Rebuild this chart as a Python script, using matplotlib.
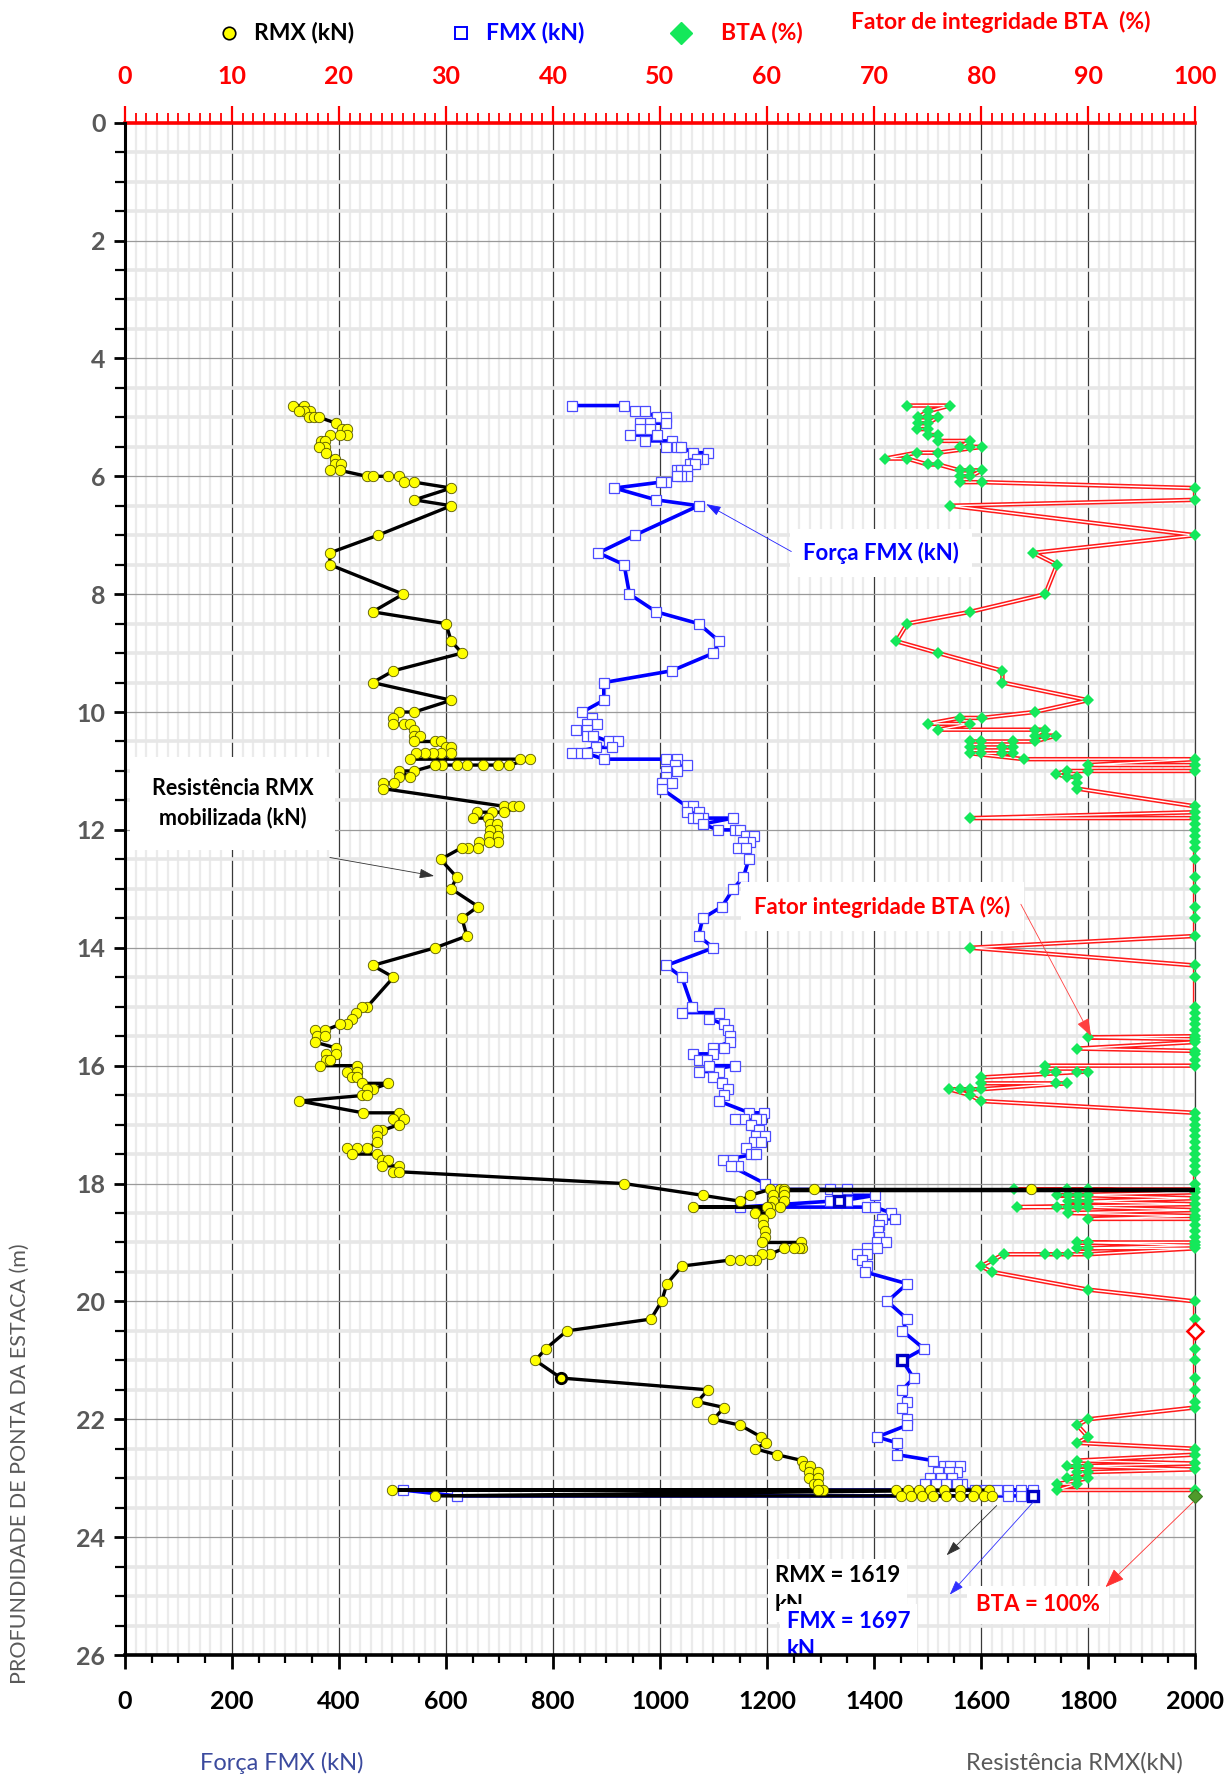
import matplotlib
matplotlib.use("Agg")
import matplotlib.pyplot as plt
from matplotlib.lines import Line2D
from matplotlib.ticker import MultipleLocator

plt.rcParams["font.family"] = ["Lato", "DejaVu Sans"]

# ---------------------------------------------------------------------------
# Data: depth (m) and value, in the order they are joined
# ---------------------------------------------------------------------------

# Resistência RMX mobilizada (kN)
rmx_depth = [
    4.80, 4.80, 4.90, 4.90, 4.90, 5.00, 5.00, 5.00, 5.10, 5.20, 5.20, 5.30, 5.30, 5.30,
    5.40, 5.40, 5.50, 5.50, 5.60, 5.70, 5.80, 5.80, 5.90, 5.90, 6.00, 6.00, 6.00, 6.00,
    6.10, 6.10, 6.20, 6.40, 6.50, 7.00, 7.30, 7.50, 8.00, 8.30, 8.50, 8.80, 9.00, 9.30,
    9.50, 9.80, 10.00, 10.00, 10.10, 10.20, 10.20, 10.20, 10.30, 10.40, 10.40, 10.50,
    10.50, 10.50, 10.60, 10.60, 10.70, 10.70, 10.70, 10.70, 10.70, 10.80, 10.80, 10.80,
    10.90, 10.90, 10.90, 10.90, 10.90, 10.90, 10.90, 11.00, 11.00, 11.10, 11.10, 11.20,
    11.20, 11.30, 11.60, 11.60, 11.60, 11.70, 11.70, 11.70, 11.80, 11.80, 11.90, 11.90,
    12.00, 12.00, 12.10, 12.10, 12.20, 12.20, 12.20, 12.30, 12.30, 12.30, 12.50, 12.80,
    13.00, 13.30, 13.50, 13.80, 14.00, 14.30, 14.50, 15.00, 15.00, 15.10, 15.20, 15.30,
    15.30, 15.40, 15.40, 15.50, 15.50, 15.60, 15.70, 15.80, 15.80, 15.90, 15.90, 16.00,
    16.00, 16.10, 16.10, 16.10, 16.20, 16.20, 16.30, 16.30, 16.40, 16.40, 16.50, 16.50,
    16.60, 16.80, 16.80, 16.90, 16.90, 17.00, 17.10, 17.10, 17.20, 17.30, 17.40, 17.40,
    17.40, 17.50, 17.50, 17.60, 17.60, 17.70, 17.70, 17.80, 17.80, 18.00, 18.20, 18.30,
    18.20, 18.10, 18.10, 18.10, 18.10, 18.10, 18.10, 18.12, 18.12, 18.20, 18.20, 18.30,
    18.30, 18.40, 18.40, 18.40, 18.40, 18.50, 18.50, 18.60, 18.70, 18.80, 18.90, 19.00,
    19.00, 19.10, 19.10, 19.10, 19.10, 19.20, 19.20, 19.30, 19.30, 19.30, 19.30, 19.40,
    19.70, 20.00, 20.30, 20.50, 20.80, 21.00, 21.30, 21.50, 21.70, 21.80, 22.00, 22.10,
    22.30, 22.40, 22.50, 22.60, 22.70, 22.80, 22.80, 22.90, 22.90, 23.00, 23.00, 23.10,
    23.10, 23.20, 23.20, 23.20, 23.20, 23.20, 23.20, 23.20, 23.20, 23.20, 23.20, 23.20,
    23.30, 23.30, 23.30, 23.30, 23.30, 23.30, 23.30, 23.30, 23.30, 23.30,
]
rmx_kn = [
    315, 334, 346, 335, 326, 345, 354, 363, 395, 405, 415, 415, 402, 383,
    366, 374, 374, 363, 376, 393, 393, 403, 383, 402, 452, 463, 492, 512,
    522, 541, 610, 541, 610, 473, 383, 383, 520, 463, 600, 610, 630, 502,
    463, 610, 541, 512, 502, 502, 522, 532, 541, 541, 551, 541,
    580, 590, 600, 610, 610, 590, 575, 560, 545, 532, 739, 757,
    718, 698, 669, 639, 620, 592, 580, 541, 512, 532, 512, 503,
    483, 483, 709, 726, 737, 709, 686, 658, 650, 679, 682, 695,
    695, 682, 681, 698, 698, 681, 661, 660, 642, 630, 590, 620,
    610, 660, 630, 639, 580, 463, 502, 453, 443, 432, 424, 415,
    402, 374, 355, 359, 374, 355, 395, 395, 376, 376, 383, 365,
    433, 433, 415, 433, 424, 433, 443, 492, 463, 452, 443, 452,
    326, 445, 512, 522, 502, 512, 481, 472, 472, 472, 452, 433,
    415, 424, 472, 481, 492, 481, 512, 502, 512, 933, 1080, 1150,
    1168, 1206, 1225, 1231, 1287, 1694, 2600, 2600, 1231, 1231, 1212, 1212,
    1231, 1225, 1206, 1061, 1200, 1178, 1206, 1193, 1193, 1196, 1196, 1190,
    1264, 1265, 1259, 1250, 1231, 1206, 1190, 1180, 1168, 1150, 1130, 1041,
    1013, 1003, 983, 826, 787, 767, 815, 1090, 1070, 1120, 1100, 1150,
    1189, 1198, 1178, 1218, 1266, 1270, 1280, 1278, 1296, 1278, 1296, 1287,
    1296, 1305, 1296, 500, 1442, 1464, 1484, 1505, 1530, 1560, 1590, 1615,
    580, 1451, 1470, 1490, 1510, 1535, 1560, 1585, 1605, 1620,
]

# Força FMX (kN)
fmx_depth = [
    4.80, 4.80, 4.90, 4.90, 5.00, 5.00, 5.10, 5.10, 5.10, 5.20, 5.20, 5.30, 5.30, 5.40,
    5.40, 5.50, 5.50, 5.50, 5.60, 5.60, 5.70, 5.70, 5.80, 5.80, 5.90, 5.90, 5.90, 6.00,
    6.00, 6.00, 6.10, 6.10, 6.20, 6.40, 6.50, 7.00, 7.30, 7.50, 8.00, 8.30, 8.50, 8.80,
    9.00, 9.30, 9.50, 9.80, 10.00, 10.10, 10.20, 10.20, 10.30, 10.30, 10.40, 10.40,
    10.50, 10.50, 10.60, 10.60, 10.70, 10.70, 10.70, 10.80, 10.80, 10.80, 10.90, 10.90,
    11.00, 11.00, 11.10, 11.20, 11.20, 11.30, 11.60, 11.60, 11.70, 11.70, 11.80, 11.80,
    11.80, 11.80, 11.90, 12.00, 12.00, 12.00, 12.10, 12.10, 12.20, 12.20, 12.30, 12.30,
    12.50, 12.80, 13.00, 13.30, 13.50, 13.80, 14.00, 14.30, 14.50, 15.00, 15.10, 15.10,
    15.20, 15.30, 15.40, 15.50, 15.60, 15.70, 15.70, 15.80, 15.80, 15.90, 15.90, 16.00,
    16.00, 16.10, 16.10, 16.20, 16.30, 16.40, 16.50, 16.60, 16.80, 16.80, 16.90, 16.90,
    16.90, 16.90, 17.00, 17.10, 17.20, 17.20, 17.30, 17.30, 17.40, 17.50, 17.50, 17.60,
    17.60, 17.70, 17.70, 18.00, 18.10, 18.10, 18.10, 18.20, 18.20, 18.30, 18.30, 18.30,
    18.40, 18.40, 18.40, 18.50, 18.60, 18.60, 18.70, 18.80, 18.90, 19.00, 19.00, 19.10,
    19.10, 19.20, 19.20, 19.30, 19.40, 19.50, 19.70, 20.00, 20.30, 20.50, 20.80, 21.00,
    21.30, 21.50, 21.70, 21.80, 22.00, 22.10, 22.30, 22.40, 22.60, 22.70, 22.80, 22.80,
    22.80, 22.90, 22.90, 22.90, 23.00, 23.00, 23.00, 23.10, 23.10, 23.10, 23.10, 23.10,
    23.20, 23.20, 23.20, 23.20, 23.20, 23.20, 23.20, 23.30, 23.30, 23.30, 23.30,
]
fmx_kn = [
    835, 933, 953, 972, 994, 1011, 1012, 981, 963, 963, 981, 944, 994, 972,
    1022, 1012, 1031, 1040, 1061, 1090, 1081, 1069, 1056, 1065, 1031, 1040, 1050, 1050,
    1040, 1031, 1011, 1001, 915, 993, 1072, 953, 885, 933, 943, 993, 1072, 1111,
    1100, 1022, 895, 895, 855, 873, 863, 882, 844, 863, 863, 875,
    904, 922, 910, 880, 835, 853, 863, 895, 1012, 1031, 1028, 1050,
    1012, 1031, 1012, 1003, 1022, 1003, 1050, 1062, 1050, 1072, 1062, 1080,
    1071, 1136, 1080, 1108, 1140, 1150, 1160, 1176, 1169, 1156, 1146, 1160,
    1166, 1156, 1137, 1116, 1080, 1072, 1100, 1012, 1041, 1060, 1041, 1110,
    1092, 1119, 1128, 1130, 1130, 1100, 1119, 1100, 1061, 1072, 1088, 1091,
    1140, 1072, 1110, 1100, 1116, 1128, 1119, 1110, 1167, 1195, 1189, 1180,
    1157, 1140, 1170, 1185, 1179, 1196, 1176, 1189, 1160, 1170, 1179, 1117,
    1137, 1146, 1132, 1196, 1210, 1318, 1349, 1330, 1402, 1335, 1349, 1318,
    1150, 1386, 1402, 1432, 1440, 1414, 1410, 1408, 1410, 1405, 1423, 1405,
    1386, 1386, 1368, 1377, 1386, 1383, 1462, 1425, 1462, 1453, 1493, 1453,
    1474, 1453, 1462, 1453, 1462, 1462, 1406, 1443, 1443, 1510, 1530, 1542,
    1561, 1555, 1540, 1520, 1505, 1525, 1545, 1564, 1555, 1535, 1515, 1495,
    1589, 1610, 1630, 1650, 1675, 1698, 520, 620, 1650, 1675, 1698,
]

# Fator de integridade BTA (%)
bta_depth = [
    4.80, 4.80, 4.90, 5.00, 5.00, 5.00, 5.10, 5.10, 5.20, 5.20, 5.30, 5.30, 5.40, 5.40,
    5.50, 5.50, 5.50, 5.60, 5.60, 5.70, 5.70, 5.80, 5.80, 5.90, 5.90, 5.90, 6.00, 6.00,
    6.10, 6.10, 6.20, 6.40, 6.50, 7.00, 7.30, 7.50, 8.00, 8.30, 8.50, 8.80, 9.00, 9.30,
    9.50, 9.80, 10.00, 10.10, 10.10, 10.20, 10.20, 10.30, 10.30, 10.30, 10.40, 10.40,
    10.40, 10.50, 10.50, 10.50, 10.50, 10.60, 10.60, 10.60, 10.60, 10.70, 10.70, 10.70,
    10.70, 10.80, 10.80, 10.90, 10.90, 11.00, 11.00, 11.00, 11.05, 11.10, 11.10, 11.20,
    11.30, 11.60, 11.70, 11.80, 11.80, 11.90, 12.00, 12.10, 12.20, 12.30, 12.50, 12.80,
    13.00, 13.30, 13.50, 13.80, 14.00, 14.30, 14.50, 15.00, 15.10, 15.20, 15.30, 15.40,
    15.50, 15.52, 15.55, 15.60, 15.71, 15.75, 15.80, 15.90, 16.00, 16.00, 16.10, 16.10,
    16.10, 16.10, 16.20, 16.30, 16.30, 16.30, 16.40, 16.40, 16.40, 16.40, 16.50, 16.60,
    16.80, 16.90, 17.00, 17.10, 17.20, 17.30, 17.40, 17.50, 17.60, 17.70, 17.80, 18.00,
    18.10, 18.10, 18.10, 18.10, 18.15, 18.20, 18.20, 18.20, 18.20, 18.25, 18.30, 18.30,
    18.30, 18.35, 18.40, 18.40, 18.40, 18.40, 18.40, 18.45, 18.50, 18.55, 18.60, 18.60,
    18.70, 18.80, 18.90, 19.00, 19.00, 19.00, 19.05, 19.10, 19.10, 19.10, 19.20, 19.20,
    19.20, 19.20, 19.20, 19.30, 19.40, 19.50, 19.80, 20.00, 20.30, 20.50, 20.80, 21.00,
    21.30, 21.50, 21.70, 21.80, 22.00, 22.10, 22.30, 22.40, 22.50, 22.60, 22.70, 22.75,
    22.80, 22.80, 22.80, 22.85, 22.90, 22.90, 23.00, 23.00, 23.00, 23.10, 23.10, 23.20,
    23.20, 23.30,
]
bta_pct = [
    73.1, 77.1, 75.0, 74.1, 75.0, 76.0, 75.0, 74.1, 74.0, 75.0, 75.0, 76.0, 76.0, 79.0,
    78.0, 79.0, 80.1, 76.0, 74.0, 71.0, 73.1, 75.0, 76.0, 78.0, 79.0, 80.1, 79.0, 78.0,
    78.0, 80.1, 100, 100, 77.1, 100, 84.9, 87.1, 86.0, 79.0, 73.1, 72.1, 76.0, 82.0,
    82.0, 90.0, 85.0, 80.1, 78.0, 75.0, 79.0, 76.0, 85.0, 86.0, 85.0, 86.0,
    87.0, 85.0, 83.0, 80.0, 79.0, 79.0, 80.0, 82.0, 83.0, 83.0, 82.0, 80.0,
    79.0, 84.0, 100, 90.0, 100, 100, 90.0, 88.0, 87.0, 88.0, 89.0, 89.0,
    89.0, 100, 100, 79.0, 100, 100, 100, 100, 100, 100, 100, 100,
    100, 100, 100, 100, 79.0, 100, 100, 100, 100, 100, 100, 100,
    100, 90.0, 100, 100, 89.0, 100, 100, 100, 100, 86.0, 86.0, 87.0,
    89.0, 90.0, 80.0, 80.0, 87.0, 88.0, 80.0, 79.0, 78.0, 77.0, 79.0, 80.0,
    100, 100, 100, 100, 100, 100, 100, 100, 100, 100, 100, 100,
    100, 83.1, 88.0, 90.0, 100, 87.1, 88.1, 89.1, 90.0, 100, 90.0, 89.1,
    88.1, 100, 83.4, 87.1, 88.1, 89.1, 90.0, 100, 88.1, 100, 90.0, 100,
    100, 100, 100, 100, 89.0, 90.0, 100, 89.0, 90.0, 100, 90.0, 88.1,
    87.1, 86.0, 82.1, 81.1, 80.0, 81.0, 90.0, 100, 100, 100, 100, 100,
    100, 100, 100, 100, 90.0, 89.0, 90.0, 89.0, 100, 100, 89.0, 100,
    88.0, 89.0, 90.0, 100, 89.0, 90.0, 88.0, 89.0, 90.0, 87.1, 89.0, 87.1,
    100, 100,
]

# points drawn with a heavier outline in the original
rmx_sel_depth, rmx_sel_kn = [21.30], [815]
fmx_sel_depth, fmx_sel_kn = [18.30, 21.00, 23.30], [1335, 1453, 1698]
bta_sel_depth, bta_sel_pct = [20.50], [100]
bta_end_depth, bta_end_pct = [23.30], [100]

kn_ticks = list(range(0, 2001, 200))
bta_ticks = list(range(0, 101, 10))
depth_ticks = list(range(0, 27, 2))

# ---------------------------------------------------------------------------
# Figure and the two stacked axes (BTA % on top scale, kN on bottom scale)
# ---------------------------------------------------------------------------
fig = plt.figure(figsize=(12.29, 17.80), dpi=100)
pos = [0.1016, 0.0702, 0.8708, 0.8609]
ax_bta = fig.add_axes(pos)
ax = fig.add_axes(pos, sharey=ax_bta)
ax.patch.set_visible(False)

ax_bta.set_xlim(0, 100)
ax_bta.set_ylim(26, 0)
ax.set_xlim(0, 2000)

# grid lives on the bottom axes
ax_bta.set_axisbelow(True)
ax_bta.xaxis.set_minor_locator(MultipleLocator(1))
ax_bta.set_xticks(bta_ticks)
ax_bta.yaxis.set_major_locator(MultipleLocator(2))
ax_bta.yaxis.set_minor_locator(MultipleLocator(0.5))
ax_bta.grid(which="minor", axis="x", color="#ebebeb", lw=1.6)
ax_bta.grid(which="minor", axis="y", color="#e7e7e7", lw=2.6)
ax_bta.grid(which="major", axis="x", color="#3a3a3a", lw=0.9)
ax_bta.grid(which="major", axis="y", color="#9a9a9a", lw=0.9)

# top red scale
ax_bta.xaxis.tick_top()
ax_bta.tick_params(axis="x", which="major", colors="red", length=12, width=1.6,
                   pad=13, labelsize=18)
ax_bta.tick_params(axis="x", which="minor", colors="red", length=7, width=1.3)
ax_bta.tick_params(axis="y", which="both", left=False, labelleft=False)
for lab in ax_bta.get_xticklabels():
    lab.set_fontweight("bold")
ax_bta.spines["top"].set_color("red")
ax_bta.spines["top"].set_linewidth(2.6)
ax_bta.spines["right"].set_color("#3a3a3a")
ax_bta.spines["right"].set_linewidth(0.9)
ax_bta.spines["left"].set_visible(False)
ax_bta.spines["bottom"].set_visible(False)

# bottom kN scale and depth axis
ax.set_xticks(kn_ticks)
ax.xaxis.set_minor_locator(MultipleLocator(50))
ax.set_yticks(depth_ticks)
ax.tick_params(axis="x", which="major", length=10, width=2, pad=15, labelsize=18,
               labelcolor="black")
ax.tick_params(axis="x", which="minor", length=6, width=1.6)
ax.tick_params(axis="y", which="major", length=8, width=2, pad=6, labelsize=18,
               labelcolor="#595959")
ax.tick_params(axis="y", which="minor", length=7, width=1.6)
for lab in ax.get_xticklabels() + ax.get_yticklabels():
    lab.set_fontweight("bold")
for side in ("top", "right"):
    ax.spines[side].set_visible(False)
ax.spines["left"].set_linewidth(2.2)
ax.spines["bottom"].set_linewidth(2.6)
ax.spines["bottom"].set_zorder(9)

# ---------------------------------------------------------------------------
# Series
# ---------------------------------------------------------------------------
ax_bta.plot(bta_pct, bta_depth, color="#ff1a1a", lw=3.2, zorder=2)
ax_bta.plot(bta_pct, bta_depth, color="white", lw=1.0, zorder=3)
ax_bta.plot(bta_pct, bta_depth, ls="none", marker="D", ms=6.5, mfc="#14e85a",
            mec="#14e85a", mew=0, zorder=4, clip_on=False)
ax_bta.plot(bta_sel_pct, bta_sel_depth, ls="none", marker="D", ms=8, mfc="white",
            mec="red", mew=1.8, zorder=5, clip_on=False)
ax_bta.plot(bta_end_pct, bta_end_depth, ls="none", marker="D", ms=7, mfc="#4f9a2a",
            mec="#3a7a20", mew=0.8, zorder=5, clip_on=False)

ax.plot(fmx_kn, fmx_depth, color="#0000ff", lw=2.6, zorder=2)
ax.plot(fmx_kn, fmx_depth, ls="none", marker="s", ms=7.5, mfc="white",
        mec="#4b4bff", mew=0.9, zorder=3)
ax.plot(fmx_sel_kn, fmx_sel_depth, ls="none", marker="s", ms=7, mfc="white",
        mec="#0000c8", mew=2.4, zorder=3)

ax.plot(rmx_kn, rmx_depth, color="black", lw=2.4, zorder=4)
ax.plot(rmx_kn, rmx_depth, ls="none", marker="o", ms=7.5, mfc="#ffff00",
        mec="#555500", mew=0.6, zorder=5)
ax.plot(rmx_sel_kn, rmx_sel_depth, ls="none", marker="o", ms=7.5, mfc="#ffff00",
        mec="black", mew=2.0, zorder=5)

# ---------------------------------------------------------------------------
# Callouts
# ---------------------------------------------------------------------------
box = dict(boxstyle="square,pad=0.6", fc="white", ec="none")

ax.text(1413, 7.30, "Força FMX (kN)", color="blue", fontsize=16, fontweight="bold",
        ha="center", va="center", bbox=box, zorder=6)
ax.annotate("", xy=(1082, 6.45), xytext=(1250, 7.30), zorder=6,
            arrowprops=dict(arrowstyle="-|>,head_length=0.9,head_width=0.3",
                            color="#2020ff", lw=0.6))

ax.text(201, 11.55, "Resistência RMX\nmobilizada (kN)", color="black", fontsize=15.5,
        fontweight="bold", ha="center", va="center", linespacing=1.45,
        bbox=dict(boxstyle="square,pad=1.0", fc="white", ec="none"), zorder=6)
ax.annotate("", xy=(583, 12.79), xytext=(378, 12.46), zorder=6,
            arrowprops=dict(arrowstyle="-|>,head_length=0.9,head_width=0.3",
                            color="#333333", lw=0.6))

ax.text(1416, 13.30, "Fator integridade BTA (%)", color="red", fontsize=16,
        fontweight="bold", ha="center", va="center", bbox=box, zorder=6)
ax.annotate("", xy=(1808, 15.54), xytext=(1672, 13.22), zorder=6,
            arrowprops=dict(arrowstyle="-|>,head_length=1.1,head_width=0.4",
                            color="#ff4040", lw=0.6))

ax.text(1215, 24.90, "RMX = 1619\nkN", color="black", fontsize=16, fontweight="bold",
        ha="left", va="center", linespacing=1.45,
        bbox=dict(boxstyle="square,pad=0.3", fc="white", ec="none"), zorder=6)
ax.text(1237, 25.67, "FMX = 1697\nkN", color="blue", fontsize=16, fontweight="bold",
        ha="left", va="center", linespacing=1.45,
        bbox=dict(boxstyle="square,pad=0.3", fc="white", ec="none"), zorder=7,
        clip_on=True)
ax.text(1591, 25.15, "BTA = 100%", color="red", fontsize=16, fontweight="bold",
        ha="left", va="center",
        bbox=dict(boxstyle="square,pad=0.4", fc="white", ec="none"), zorder=6)

ax.annotate("", xy=(1532, 24.34), xytext=(1633, 23.43), zorder=8,
            arrowprops=dict(arrowstyle="-|>,head_length=0.9,head_width=0.3",
                            color="#333333", lw=0.6))
ax.annotate("", xy=(1538, 25.01), xytext=(1701, 23.37), zorder=8,
            arrowprops=dict(arrowstyle="-|>,head_length=0.9,head_width=0.3",
                            color="#3030ff", lw=0.6))
ax.annotate("", xy=(1829, 24.88), xytext=(2000, 23.37), zorder=8,
            arrowprops=dict(arrowstyle="-|>,head_length=1.2,head_width=0.45",
                            color="#ff3030", lw=0.6))

# ---------------------------------------------------------------------------
# Header legend and axis titles (figure coordinates)
# ---------------------------------------------------------------------------
fig.add_artist(Line2D([0.1866], [0.9815], marker="o", ms=9, mfc="#ffff00", mec="black",
                      mew=1.2, transform=fig.transFigure))
fig.text(0.2069, 0.9815, "RMX (kN)", color="black", fontsize=16.5, fontweight="bold",
         va="center")
fig.add_artist(Line2D([0.3749], [0.9815], marker="s", ms=8, mfc="white", mec="blue",
                      mew=1.4, transform=fig.transFigure))
fig.text(0.3952, 0.9815, "FMX (kN)", color="blue", fontsize=16.5, fontweight="bold",
         va="center")
fig.add_artist(Line2D([0.554], [0.9815], marker="D", ms=11, mfc="#14e85a", mec="#14e85a",
                      transform=fig.transFigure))
fig.text(0.5863, 0.9815, "BTA (%)", color="red", fontsize=16.5, fontweight="bold",
         va="center")
fig.text(0.6925, 0.9879, "Fator de integridade BTA  (%)", color="red", fontsize=16.5,
         fontweight="bold", va="center")

fig.text(0.0163, 0.1775, "PROFUNDIDADE DE PONTA DA ESTACA (m)", color="#595959",
         fontsize=15.5, rotation=90, ha="center", va="center")
fig.text(0.229, 0.0096, "Força FMX (kN)", color="#3b4a9e", fontsize=17,
         ha="center", va="center")
fig.text(0.8745, 0.0096, "Resistência RMX(kN)", color="#595959", fontsize=17,
         ha="center", va="center")

fig.savefig("out.png", dpi=100)
